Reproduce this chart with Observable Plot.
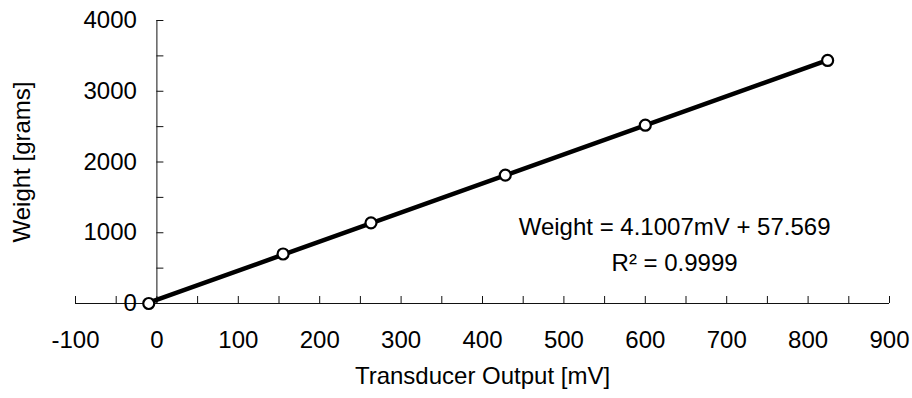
<!DOCTYPE html>
<html>
<head>
<meta charset="utf-8">
<script src="https://cdn.jsdelivr.net/npm/d3@7"></script>
<script src="https://cdn.jsdelivr.net/npm/@observablehq/plot@0.6"></script>
<style>
  html, body { margin: 0; padding: 0; background: #fff; }
  #chart svg { display: block; }
</style>
</head>
<body>
<div id="chart"></div>
<script>
// Data
const transducerMV = [-10, 155, 263, 428, 600, 824];
const weightGrams = [0, 700, 1140, 1815, 2520, 3435];

// Axis tick values and labels
const xMajorTicks = [-100, 0, 100, 200, 300, 400, 500, 600, 700, 800, 900];
const xMinorTicks = [-50, 50, 150, 250, 350, 450, 550, 650, 750, 850];
const yMajorTicks = [0, 1000, 2000, 3000, 4000];
const yMinorTicks = [500, 1500, 2500, 3500];

const xTitle = "Transducer Output [mV]";
const yTitle = "Weight [grams]";
const equationText = "Weight = 4.1007mV + 57.569";
const rSquaredText = "R\u00B2 = 0.9999";
const equationPos = {mV: 636, grams: 1071};
const rSquaredPos = {mV: 636, grams: 562};

const points = transducerMV.map((x, i) => ({x, y: weightGrams[i]}));

const font = "'Liberation Sans', Arial, sans-serif";
const fs = 24;
const axisColor = "#111";

const chart = Plot.plot({
  width: 912,
  height: 398,
  marginLeft: 75,
  marginRight: 23,
  marginTop: 20,
  marginBottom: 95,
  style: {fontFamily: font, fontSize: fs + "px", color: "#000", background: "#fff"},
  x: {domain: [-100, 900], axis: null},
  y: {domain: [0, 4000], axis: null},
  marks: [
    // axis lines crossing at (0, 0)
    Plot.ruleY([0], {stroke: axisColor, strokeWidth: 1}),
    Plot.ruleX([0], {stroke: axisColor, strokeWidth: 1}),
    // x ticks pointing up from the x axis
    Plot.ruleX([...xMajorTicks, ...xMinorTicks], {x: d => d, y1: 0, y2: 0, insetTop: -7, stroke: axisColor, strokeWidth: 1}),
    // y ticks pointing right from the y axis
    Plot.ruleY([...yMajorTicks, ...yMinorTicks], {y: d => d, x1: 0, x2: 0, insetRight: -7, stroke: axisColor, strokeWidth: 1}),
    // tick labels
    Plot.text(xMajorTicks, {x: d => d, y: 0, dy: 37, text: d => String(d), fill: "#000", fontSize: fs}),
    Plot.text(yMajorTicks, {x: 0, y: d => d, dx: -20, textAnchor: "end", text: d => String(d), fill: "#000", fontSize: fs}),
    // axis titles
    Plot.text([xTitle], {frameAnchor: "bottom", dy: 80, text: d => d, fill: "#000", fontSize: fs}),
    Plot.text([yTitle], {frameAnchor: "left", textAnchor: "middle", dx: -53, rotate: -90, text: d => d, fill: "#000", fontSize: fs}),
    // regression line
    Plot.linearRegressionY(points, {x: "x", y: "y", ci: 0, stroke: "#000", strokeWidth: 4.5}),
    // data markers
    Plot.dot(points, {x: "x", y: "y", r: 5.5, stroke: "#000", strokeWidth: 2.2, fill: "#fff"}),
    // trendline equation
    Plot.text([equationText], {x: equationPos.mV, y: equationPos.grams, text: d => d, fill: "#000", fontSize: fs}),
    Plot.text([rSquaredText], {x: rSquaredPos.mV, y: rSquaredPos.grams, text: d => d, fill: "#000", fontSize: fs})
  ]
});

document.getElementById("chart").appendChild(chart);
</script>
</body>
</html>
